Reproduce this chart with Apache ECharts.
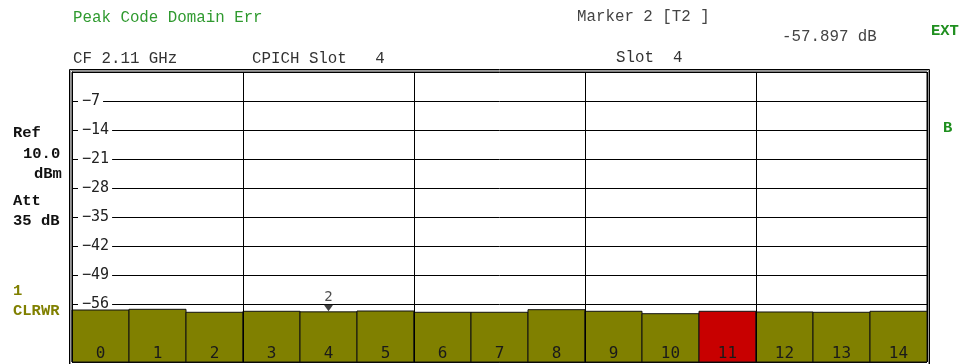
<!DOCTYPE html>
<html>
<head>
<meta charset="utf-8">
<script src="https://cdn.jsdelivr.net/npm/echarts@6/dist/echarts.min.js"></script>
<style>
  html, body { margin: 0; padding: 0; background: #fff; }
  #chart { width: 965px; height: 364px; }
</style>
</head>
<body>
<div id="chart"></div>
<script>
// Code channels on the x axis
const codes = ['0', '1', '2', '3', '4', '5', '6', '7', '8', '9', '10', '11', '12', '13', '14'];
// Peak code domain error per code, dB
const peakErrDb = [-57.45, -57.28, -58.0, -57.76, -57.897, -57.69, -58.0, -58.0, -57.37, -57.76, -58.34, -57.76, -57.93, -58.0, -57.76];
// Code drawn in the alert colour
const highlightCode = 11;
// Marker 2 position
const markerCode = 4;
const markerValue = -57.897;
// Level axis
const yMin = -70, yMax = 0, yStep = 7;

const MONO = '"Liberation Mono", "DejaVu Sans Mono", monospace';
const AXIS_FONT = '"DejaVu Sans Mono", monospace';
const GREEN = '#2f9a2f';
const OLIVE = '#808000';

const chart = echarts.init(document.getElementById('chart'), null, { renderer: 'canvas' });

function txt(text, x, y, color, opts) {
  return {
    type: 'text',
    z: 100,
    style: Object.assign({
      text: text, x: x, y: y,
      fill: color,
      font: '15.8px ' + MONO,
      textVerticalAlign: 'middle'
    }, opts || {})
  };
}
function boldTxt(text, x, y, color) {
  return txt(text, x, y, color, { font: 'bold 15.5px ' + MONO });
}

chart.setOption({
  animation: false,
  backgroundColor: '#fff',
  grid: {
    left: 72, top: 72, width: 855, height: 290,
    outerBoundsMode: 'none',
    containLabel: false,
    show: true, borderColor: '#000', borderWidth: 1
  },
  xAxis: {
    type: 'category',
    data: codes,
    z: 10,
    axisLine: { show: false },
    axisTick: { show: false },
    axisLabel: {
      inside: true, margin: 0,
      color: '#1a1a1a',
      fontFamily: AXIS_FONT, fontSize: 16
    },
    splitLine: {
      show: true,
      interval: function (i) { return i % 3 === 0; },
      lineStyle: { color: '#000', width: 1 }
    }
  },
  yAxis: {
    type: 'value',
    min: yMin, max: yMax, interval: yStep,
    axisLine: { show: true, lineStyle: { color: '#000' } },
    axisTick: { show: true, inside: true, length: 5, lineStyle: { color: '#000' } },
    axisLabel: {
      inside: true, margin: 6,
      color: '#222',
      fontFamily: AXIS_FONT, fontSize: 15,
      backgroundColor: '#fff',
      padding: [0, 3, 0, 4],
      formatter: function (v) {
        return (v === yMax || v === yMin) ? '' : String(v).replace('-', '\u2212');
      }
    },
    splitLine: { show: true, lineStyle: { color: '#000', width: 1 } }
  },
  series: [
    {
      type: 'custom',
      z: 5,
      data: peakErrDb.map(function (v, i) { return [i, v]; }),
      renderItem: function (params, api) {
        const i = api.value(0);
        const top = api.coord([i, api.value(1)]);
        const base = api.coord([i, yMin]);
        const w = api.size([1, 0])[0];
        return {
          type: 'rect',
          shape: { x: top[0] - w / 2, y: top[1], width: w, height: base[1] - top[1] },
          style: {
            fill: i === highlightCode ? '#c80000' : OLIVE,
            stroke: '#111',
            lineWidth: 1
          }
        };
      }
    },
    {
      type: 'scatter',
      z: 6,
      data: [[markerCode, markerValue]],
      symbol: 'triangle',
      symbolRotate: 180,
      symbolSize: [10, 7],
      symbolOffset: [0, -4],
      itemStyle: { color: '#111' },
      label: {
        show: true, position: 'top', distance: 0,
        formatter: '2',
        color: '#222', fontFamily: AXIS_FONT, fontSize: 14
      }
    }
  ],
  graphic: [
    { type: 'rect', z: 1, shape: { x: 69.5, y: 69.5, width: 860, height: 300 },
      style: { fill: null, stroke: '#000', lineWidth: 1 } },
    { type: 'rect', z: 1, shape: { x: 70.5, y: 70.5, width: 858, height: 300 },
      style: { fill: null, stroke: '#999', lineWidth: 1 } },

    txt('Peak Code Domain Err', 73, 18, GREEN),
    txt('CF 2.11 GHz', 73, 59, '#333'),
    txt('CPICH Slot   4', 252, 59, '#333'),
    txt('Marker 2 [T2 ]', 577, 17, '#444'),
    txt('-57.897 dB', 782, 37, '#444'),
    txt('Slot  4', 616, 58, '#333'),

    boldTxt('EXT', 931, 31, '#1f8f1f'),
    boldTxt('B', 943, 128, '#1f8f1f'),

    boldTxt('Ref', 13, 133, '#111'),
    boldTxt('10.0', 23, 154, '#111'),
    boldTxt('dBm', 34, 174, '#111'),
    boldTxt('Att', 13, 201, '#111'),
    boldTxt('35 dB', 13, 221, '#111'),
    boldTxt('1', 13, 291, OLIVE),
    boldTxt('CLRWR', 13, 311, OLIVE)
  ]
});
</script>
</body>
</html>
